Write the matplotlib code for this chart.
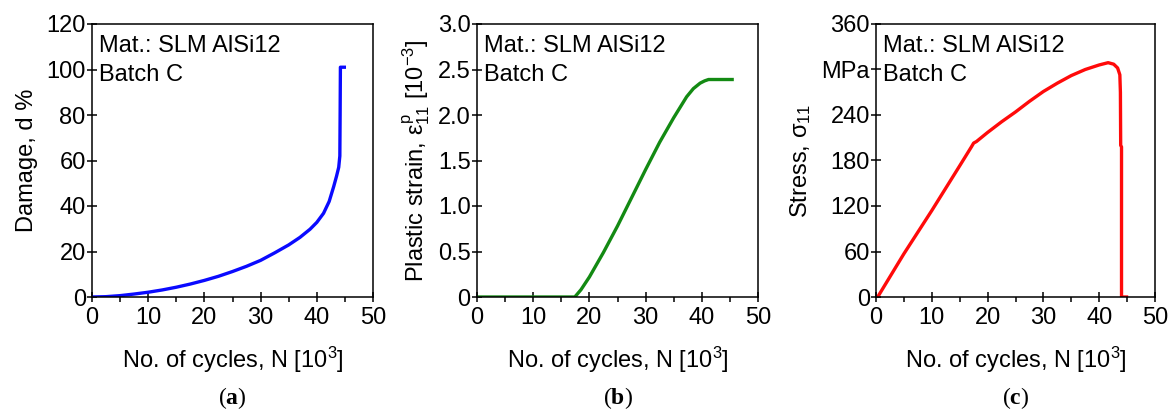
import numpy as np
import matplotlib
matplotlib.use("Agg")
import matplotlib.pyplot as plt
from matplotlib.ticker import MultipleLocator

plt.rcParams['font.family'] = ['Liberation Sans', 'DejaVu Sans']
plt.rcParams['mathtext.fontset'] = 'custom'
plt.rcParams['mathtext.rm'] = 'Liberation Sans'
plt.rcParams['mathtext.it'] = 'Liberation Sans'
plt.rcParams['mathtext.bf'] = 'Liberation Serif:bold'

# Damage evolution, N in 10^3 cycles
damage_n = [0, 2.5, 5, 7.5, 10, 12.5, 15, 17.5, 20, 22.5, 25, 27.5, 30, 32.5, 35, 37,
            38.8, 40, 41.2, 42.2, 43.0, 43.5, 43.9, 44.1, 44.15, 44.2, 44.9]
damage_d = [0, 0.15, 0.6, 1.3, 2.1, 3.1, 4.3, 5.7, 7.3, 9.1, 11.2, 13.5, 16.1, 19.4, 22.9, 26.2,
            29.8, 32.8, 36.8, 42, 48.5, 53, 57, 62, 80, 101, 101]

# Plastic strain, 10^-3
strain_n = [0, 10, 17.4, 18.5, 20, 22.5, 25, 27.5, 30, 32.5, 35, 37.3, 38.5, 39.7, 40.5, 41.2, 45.4]
strain_e = [0, 0, 0, 0.08, 0.22, 0.49, 0.78, 1.09, 1.40, 1.70, 1.97, 2.20, 2.29, 2.35, 2.375, 2.39, 2.39]

# Stress, MPa
stress_n = [0.3, 5, 10, 15, 17.1, 17.5, 18, 20, 22.5, 25, 27.5, 30, 32.5, 35, 37.5, 40,
            41.6, 42.6, 43.3, 43.7, 43.8, 43.85, 44.0, 44.0, 44.9]
stress_s = [0, 57, 114, 173, 198, 203, 205, 217, 231, 244, 258, 271, 282, 292, 300, 306,
            309, 307, 302, 293, 270, 200, 198, 0, 0]

fig = plt.figure(figsize=(11.72, 4.09), dpi=100)
W, H = 1172, 409

def make_axes(left, right, top=24, bottom=297):
    return fig.add_axes([left / W, 1 - bottom / H, (right - left) / W, (bottom - top) / H])

fs = 17

def style(ax, ylim, ystep):
    ax.set_xlim(0, 50)
    ax.set_ylim(0, ylim)
    ax.xaxis.set_major_locator(MultipleLocator(10))
    ax.xaxis.set_minor_locator(MultipleLocator(5))
    ax.yaxis.set_major_locator(MultipleLocator(ystep))
    ax.tick_params(which='major', direction='inout', length=7, width=1.1, labelsize=fs,
                   top=False, right=False, pad=1)
    ax.tick_params(axis='x', which='major', pad=4)
    ax.tick_params(axis='x', which='minor', direction='out', length=3.5, width=1.1)
    for sp in ax.spines.values():
        sp.set_linewidth(1.1)
    ax.set_xlabel('No. of cycles, N [10$^{3}$]', fontsize=fs, labelpad=11)
    ax.text(0.025, 0.96, 'Mat.: SLM AlSi12\nBatch C', transform=ax.transAxes,
            fontsize=fs, va='top', ha='left', linespacing=1.4)

# (a) damage
ax1 = make_axes(92, 373)
ax1.plot(damage_n, damage_d, color='#0a0aff', lw=2.4)
style(ax1, 120, 20)
ax1.set_ylabel('Damage, d %', fontsize=fs, labelpad=6)

# (b) plastic strain
ax2 = make_axes(477, 758)
ax2.plot(strain_n, strain_e, color='#138a13', lw=2.4)
style(ax2, 3.0, 0.5)
ax2.set_yticks([0, 0.5, 1.0, 1.5, 2.0, 2.5, 3.0])
ax2.set_yticklabels(['0', '0.5', '1.0', '1.5', '2.0', '2.5', '3.0'])
ax2.set_ylabel(r'Plastic strain, $\varepsilon_{11}^{\mathrm{p}}$ [10$^{-3}$]', fontsize=fs, labelpad=4)

# (c) stress
ax3 = make_axes(876, 1155)
ax3.plot(stress_n, stress_s, color='#ff0a0a', lw=2.4)
style(ax3, 360, 60)
ax3.set_yticks([0, 60, 120, 180, 240, 300, 360])
ax3.set_yticklabels(['0', '60', '120', '180', '240', 'MPa', '360'])
ax3.set_ylabel(r'Stress, $\sigma_{11}$', fontsize=fs, labelpad=6)

# sub-figure captions
for ax, letter in [(ax1, 'a'), (ax2, 'b'), (ax3, 'c')]:
    pos = ax.get_position()
    xc = (pos.x0 + pos.x1) / 2
    fig.text(xc, 1 - 398 / H, r'($\mathbf{%s}$)' % letter, family='Liberation Serif',
             fontsize=17, ha='center', va='center')

fig.savefig('out.png', dpi=100)
